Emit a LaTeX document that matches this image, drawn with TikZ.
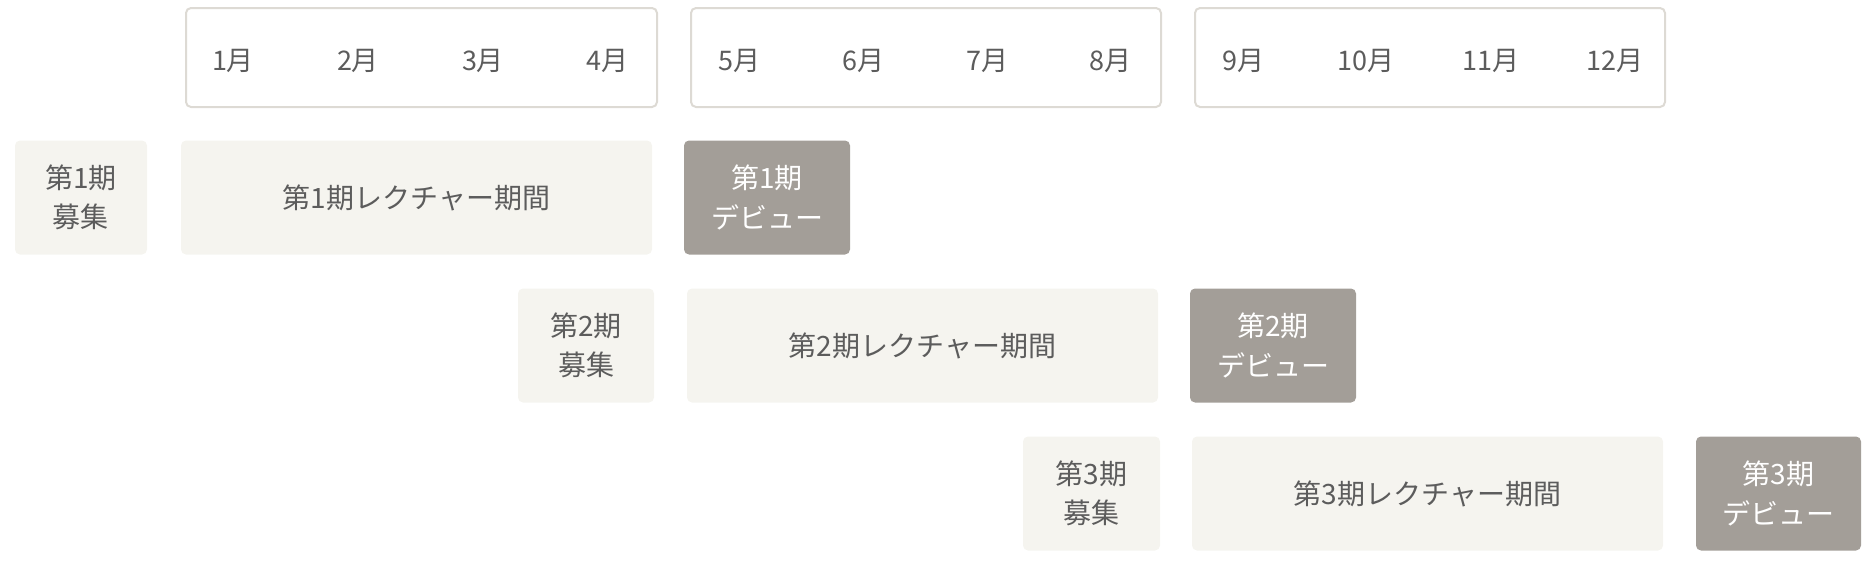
\documentclass[tikz,border=0pt]{standalone}
\usepackage{fontspec}
\setmainfont{Noto Sans CJK JP}
\begin{document}
\begin{tikzpicture}[x=0.4pt,y=-0.4pt]
\definecolor{bordergray}{HTML}{DDDAD4}
\definecolor{lightbg}{HTML}{F5F4EF}
\definecolor{darkbg}{HTML}{A39E98}
\definecolor{txtgray}{HTML}{5C5C5C}
\tikzset{
  sz/.style 2 args={minimum width=#1*0.4pt, minimum height=#2*0.4pt},
  base/.style={inner sep=0pt, align=center, rounded corners=2pt,
    font=\fontsize{11.2pt}{15.8pt}\selectfont},
  monthbox/.style={base, draw=bordergray, line width=0.8pt, fill=white},
  monthlbl/.style={inner sep=0pt, text=txtgray, font=\fontsize{10.8pt}{13pt}\selectfont},
  lightbox/.style={base, fill=lightbg, text=txtgray},
  darkbox/.style={base, fill=darkbg, text=white},
}
\useasboundingbox (0,0) rectangle (1872,560);
% month boxes
\node[monthbox, sz={471}{99}] (mb1) at (421.5,57.5) {};
\node[monthbox, sz={470}{99}] (mb2) at (926,57.5) {};
\node[monthbox, sz={470}{99}] (mb3) at (1430,57.5) {};
% month labels
\node[monthlbl] (m1) at (233,60.5) {1月};
\node[monthlbl] (m2) at (358,60.5) {2月};
\node[monthlbl] (m3) at (483,60.5) {3月};
\node[monthlbl] (m4) at (607,60.5) {4月};
\node[monthlbl] (m5) at (739,60.5) {5月};
\node[monthlbl] (m6) at (863,60.5) {6月};
\node[monthlbl] (m7) at (987,60.5) {7月};
\node[monthlbl] (m8) at (1110,60.5) {8月};
\node[monthlbl] (m9) at (1243,60.5) {9月};
\node[monthlbl] (m10) at (1366,60.5) {10月};
\node[monthlbl] (m11) at (1491,60.5) {11月};
\node[monthlbl] (m12) at (1615,60.5) {12月};
% row 1
\node[lightbox, sz={132}{114}] (r1) at (81,197.5) {第1期\\募集};
\node[lightbox, sz={471}{114}] (l1) at (416.5,197.5) {第1期レクチャー期間};
\node[darkbox, sz={166}{114}] (d1) at (767,197.5) {第1期\\デビュー};
% row 2
\node[lightbox, sz={136}{114}] (r2) at (586,345.5) {第2期\\募集};
\node[lightbox, sz={471}{114}] (l2) at (922.5,345.5) {第2期レクチャー期間};
\node[darkbox, sz={166}{114}] (d2) at (1273,345.5) {第2期\\デビュー};
% row 3
\node[lightbox, sz={137}{114}] (r3) at (1091.5,493.5) {第3期\\募集};
\node[lightbox, sz={471}{114}] (l3) at (1427.5,493.5) {第3期レクチャー期間};
\node[darkbox, sz={165}{114}] (d3) at (1778.5,493.5) {第3期\\デビュー};
\end{tikzpicture}
\end{document}
